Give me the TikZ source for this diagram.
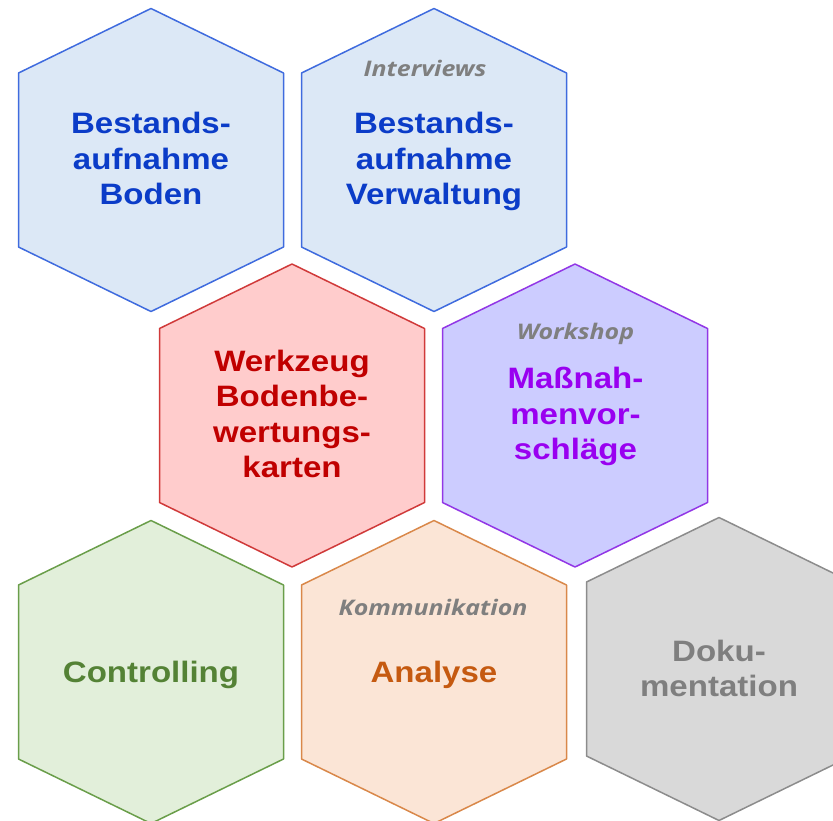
\documentclass[tikz,border=0pt]{standalone}
\usepackage{fontspec}
\setmainfont[FakeStretch=1.12]{Liberation Sans}
\newfontfamily\tagfont[FakeStretch=1.16]{Open Sans}

% cell palette
\definecolor{blueFill}{HTML}{DCE8F6}
\definecolor{blueLine}{HTML}{3F6BDE}
\definecolor{blueText}{HTML}{0B3CC8}
\definecolor{redFill}{HTML}{FFCCCC}
\definecolor{redLine}{HTML}{D03A3A}
\definecolor{redText}{HTML}{C00000}
\definecolor{purpleFill}{HTML}{CCCCFF}
\definecolor{purpleLine}{HTML}{9237E6}
\definecolor{purpleText}{HTML}{9900F0}
\definecolor{greenFill}{HTML}{E2EFDA}
\definecolor{greenLine}{HTML}{6A9E4A}
\definecolor{greenText}{HTML}{548235}
\definecolor{orangeFill}{HTML}{FBE5D6}
\definecolor{orangeLine}{HTML}{D9884A}
\definecolor{orangeText}{HTML}{C55A11}
\definecolor{grayFill}{HTML}{D9D9D9}
\definecolor{grayLine}{HTML}{8C8C8C}
\definecolor{grayText}{HTML}{7F7F7F}
\definecolor{tagGray}{HTML}{7F7F7F}

\tikzset{
  pics/hexcell/.style 2 args={code={
    \draw[line width=1.5pt, line join=round, draw=#2, fill=#1]
      (0,-151.5) -- (132.5,-87) -- (132.5,87) -- (0,151.5)
      -- (-132.5,87) -- (-132.5,-87) -- cycle;}},
  maintext/.style={font=\fontsize{29.5}{35.5}\selectfont\bfseries,
    align=center, inner sep=0pt},
  tagtext/.style={font=\tagfont\fontsize{21.5}{24}\selectfont\bfseries\itshape,
    text=tagGray, inner sep=0pt, anchor=base}
}

\begin{document}
\begin{tikzpicture}[x=1pt, y=-1pt]
  \useasboundingbox (0,0) rectangle (833,820);
  \clip (0,0) rectangle (833,820);

  % cell centres
  \coordinate (c1) at (151,160);
  \coordinate (c2) at (434,160);
  \coordinate (c3) at (292,415.5);
  \coordinate (c4) at (575,415.5);
  \coordinate (c5) at (151,672);
  \coordinate (c6) at (434,672);
  \coordinate (c7) at (719,669);

  % honeycomb cells
  \pic at (c1) {hexcell={blueFill}{blueLine}};
  \pic at (c2) {hexcell={blueFill}{blueLine}};
  \pic at (c3) {hexcell={redFill}{redLine}};
  \pic at (c4) {hexcell={purpleFill}{purpleLine}};
  \pic at (c5) {hexcell={greenFill}{greenLine}};
  \pic at (c6) {hexcell={orangeFill}{orangeLine}};
  \pic at (c7) {hexcell={grayFill}{grayLine}};

  % cell titles
  \node[maintext, text=blueText] (t1) at (151,158.5) {Bestands-\\aufnahme\\Boden};
  \node[maintext, text=blueText] (t2) at (434,161.5) {Bestands-\\aufnahme\\Verwaltung};
  \node[maintext, text=redText] (t3) at (292,414) {Werkzeug\\Bodenbe-\\wertungs-\\karten};
  \node[maintext, text=purpleText] (t4) at (575.5,416.5) {Maßnah-\\menvor-\\schläge};
  \node[maintext, text=greenText, anchor=base] (t5) at (151,682) {Controlling};
  \node[maintext, text=orangeText, anchor=base] (t6) at (434,682) {Analyse};
  \node[maintext, text=grayText] (t7) at (719,668.5) {Doku-\\mentation};

  % method tags
  \node[tagtext] (g2) at (425,76) {Interviews};
  \node[tagtext] (g4) at (575.5,339) {Workshop};
  \node[tagtext] (g6) at (433,615) {Kommunikation};
\end{tikzpicture}
\end{document}
